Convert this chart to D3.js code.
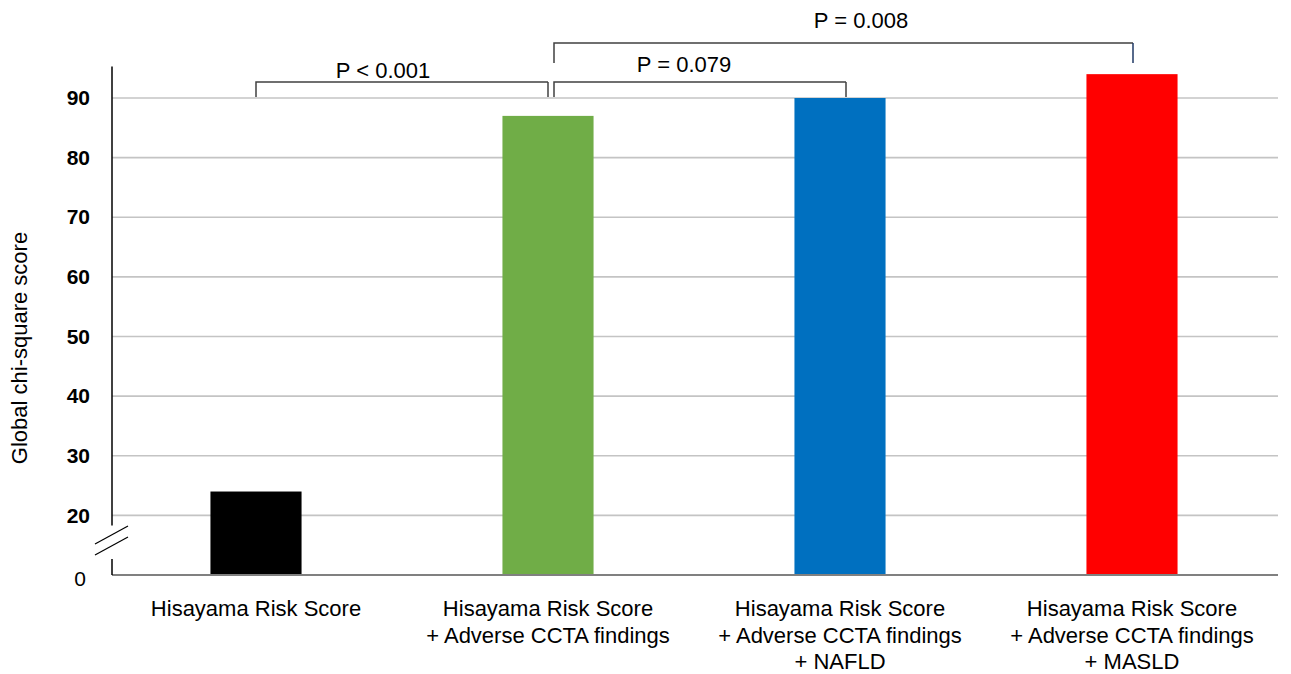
<!DOCTYPE html>
<html>
<head>
<meta charset="utf-8">
<script src="https://cdn.jsdelivr.net/npm/d3@7"></script>
<style>
  html, body { margin: 0; padding: 0; background: #fff; }
  svg { display: block; font-family: Arial, "Liberation Sans", sans-serif; }
</style>
</head>
<body>
<svg id="chart" width="1291" height="674"></svg>
<script>
// ---- data ----
const categories = [
  ["Hisayama Risk Score"],
  ["Hisayama Risk Score", "+ Adverse CCTA findings"],
  ["Hisayama Risk Score", "+ Adverse CCTA findings", "+ NAFLD"],
  ["Hisayama Risk Score", "+ Adverse CCTA findings", "+ MASLD"]
];
const values = [24, 87, 90, 94];
const barColors = ["#000000", "#70ad47", "#0070c0", "#ff0000"];
const tickValues = [20, 30, 40, 50, 60, 70, 80, 90];
const baseLabel = "0";
const yTitle = "Global chi-square score";
const comparisons = [
  { from: 0, to: 1, label: "P < 0.001" },
  { from: 1, to: 2, label: "P = 0.079" },
  { from: 1, to: 3, label: "P = 0.008" }
];

// ---- layout ----
const svg = d3.select("#chart");
const keys = categories.map((c, i) => "c" + i);
const x = d3.scaleBand().domain(keys).range([110, 1278]).paddingInner(0.688).paddingOuter(0.344);
const y = d3.scaleLinear().domain([10, 90]).range([575, 98]);
const axisX = 112, gridEnd = 1278;
const cx = i => x(keys[i]) + x.bandwidth() / 2;

// gridlines
svg.append("g").selectAll("line").data(tickValues).join("line")
  .attr("x1", axisX).attr("x2", gridEnd)
  .attr("y1", d => y(d)).attr("y2", d => y(d))
  .attr("stroke", "#c4c4c4").attr("stroke-width", 1.6);

// bars
svg.append("g").selectAll("rect").data(values).join("rect")
  .attr("x", (d, i) => x(keys[i]))
  .attr("width", x.bandwidth())
  .attr("y", d => y(d))
  .attr("height", d => y(10) - y(d))
  .attr("fill", (d, i) => barColors[i]);

// baseline
svg.append("line").attr("x1", axisX).attr("x2", gridEnd)
  .attr("y1", y(10)).attr("y2", y(10))
  .attr("stroke", "#808080").attr("stroke-width", 2);

// y axis labels via d3 axis
const yAxis = d3.axisLeft(y).tickValues(tickValues).tickSize(0).tickPadding(22);
const gy = svg.append("g").attr("transform", `translate(${axisX},0)`).call(yAxis);
gy.select(".domain").remove();
gy.selectAll("text").attr("font-size", 21).attr("font-weight", "bold")
  .attr("fill", "#000").attr("font-family", "Arial, 'Liberation Sans', sans-serif");
svg.append("text").attr("x", 80).attr("y", y(10) + 3).attr("dy", "0.36em")
  .attr("text-anchor", "middle").attr("font-size", 21).text(baseLabel);

// broken y axis line
svg.append("line").attr("x1", axisX).attr("x2", axisX)
  .attr("y1", y(95.3)).attr("y2", y(18.3)).attr("stroke", "#000").attr("stroke-width", 1.5);
svg.append("line").attr("x1", axisX).attr("x2", axisX)
  .attr("y1", y(12.7)).attr("y2", y(10)).attr("stroke", "#000").attr("stroke-width", 1.5);
// break marks
[0, 11].forEach(dy => {
  svg.append("line").attr("x1", 95).attr("y1", 544 + dy).attr("x2", 128).attr("y2", 526 + dy)
    .attr("stroke", "#000").attr("stroke-width", 1.2);
});

// y title
svg.append("text").attr("transform", `translate(27,${348}) rotate(-90)`)
  .attr("text-anchor", "middle").attr("font-size", 22).text(yTitle);

// category labels
const cat = svg.append("g").selectAll("text").data(categories).join("text")
  .attr("text-anchor", "middle").attr("font-size", 22).attr("fill", "#000");
cat.each(function (lines, i) {
  d3.select(this).selectAll("tspan").data(lines).join("tspan")
    .attr("x", cx(i)).attr("y", (d, j) => 616 + j * 26.5).text(d => d);
});

// comparison brackets
const bracketCol = "#404040";
function bracket(x1, x2, top, bot1, bot2, rightColor) {
  svg.append("path").attr("d", `M${x1},${bot1}V${top}H${x2}`)
    .attr("fill", "none").attr("stroke", bracketCol).attr("stroke-width", 1.5);
  svg.append("path").attr("d", `M${x2},${top}V${bot2}`)
    .attr("fill", "none").attr("stroke", rightColor || bracketCol).attr("stroke-width", 1.5);
}
// P < 0.001
bracket(cx(0), cx(1), 82, 97, 97);
svg.append("text").attr("x", 383).attr("y", 78).attr("text-anchor", "middle").attr("font-size", 22).text(comparisons[0].label);
// P = 0.079
bracket(cx(1) + 6, cx(2) + 6, 82, 97, 97);
svg.append("text").attr("x", 684).attr("y", 72).attr("text-anchor", "middle").attr("font-size", 22).text(comparisons[1].label);
// P = 0.008
bracket(cx(1) + 6, cx(3) + 1, 43, 63, 63, "#1f3864");
svg.append("text").attr("x", 861).attr("y", 28).attr("text-anchor", "middle").attr("font-size", 22).text(comparisons[2].label);
</script>
</body>
</html>
